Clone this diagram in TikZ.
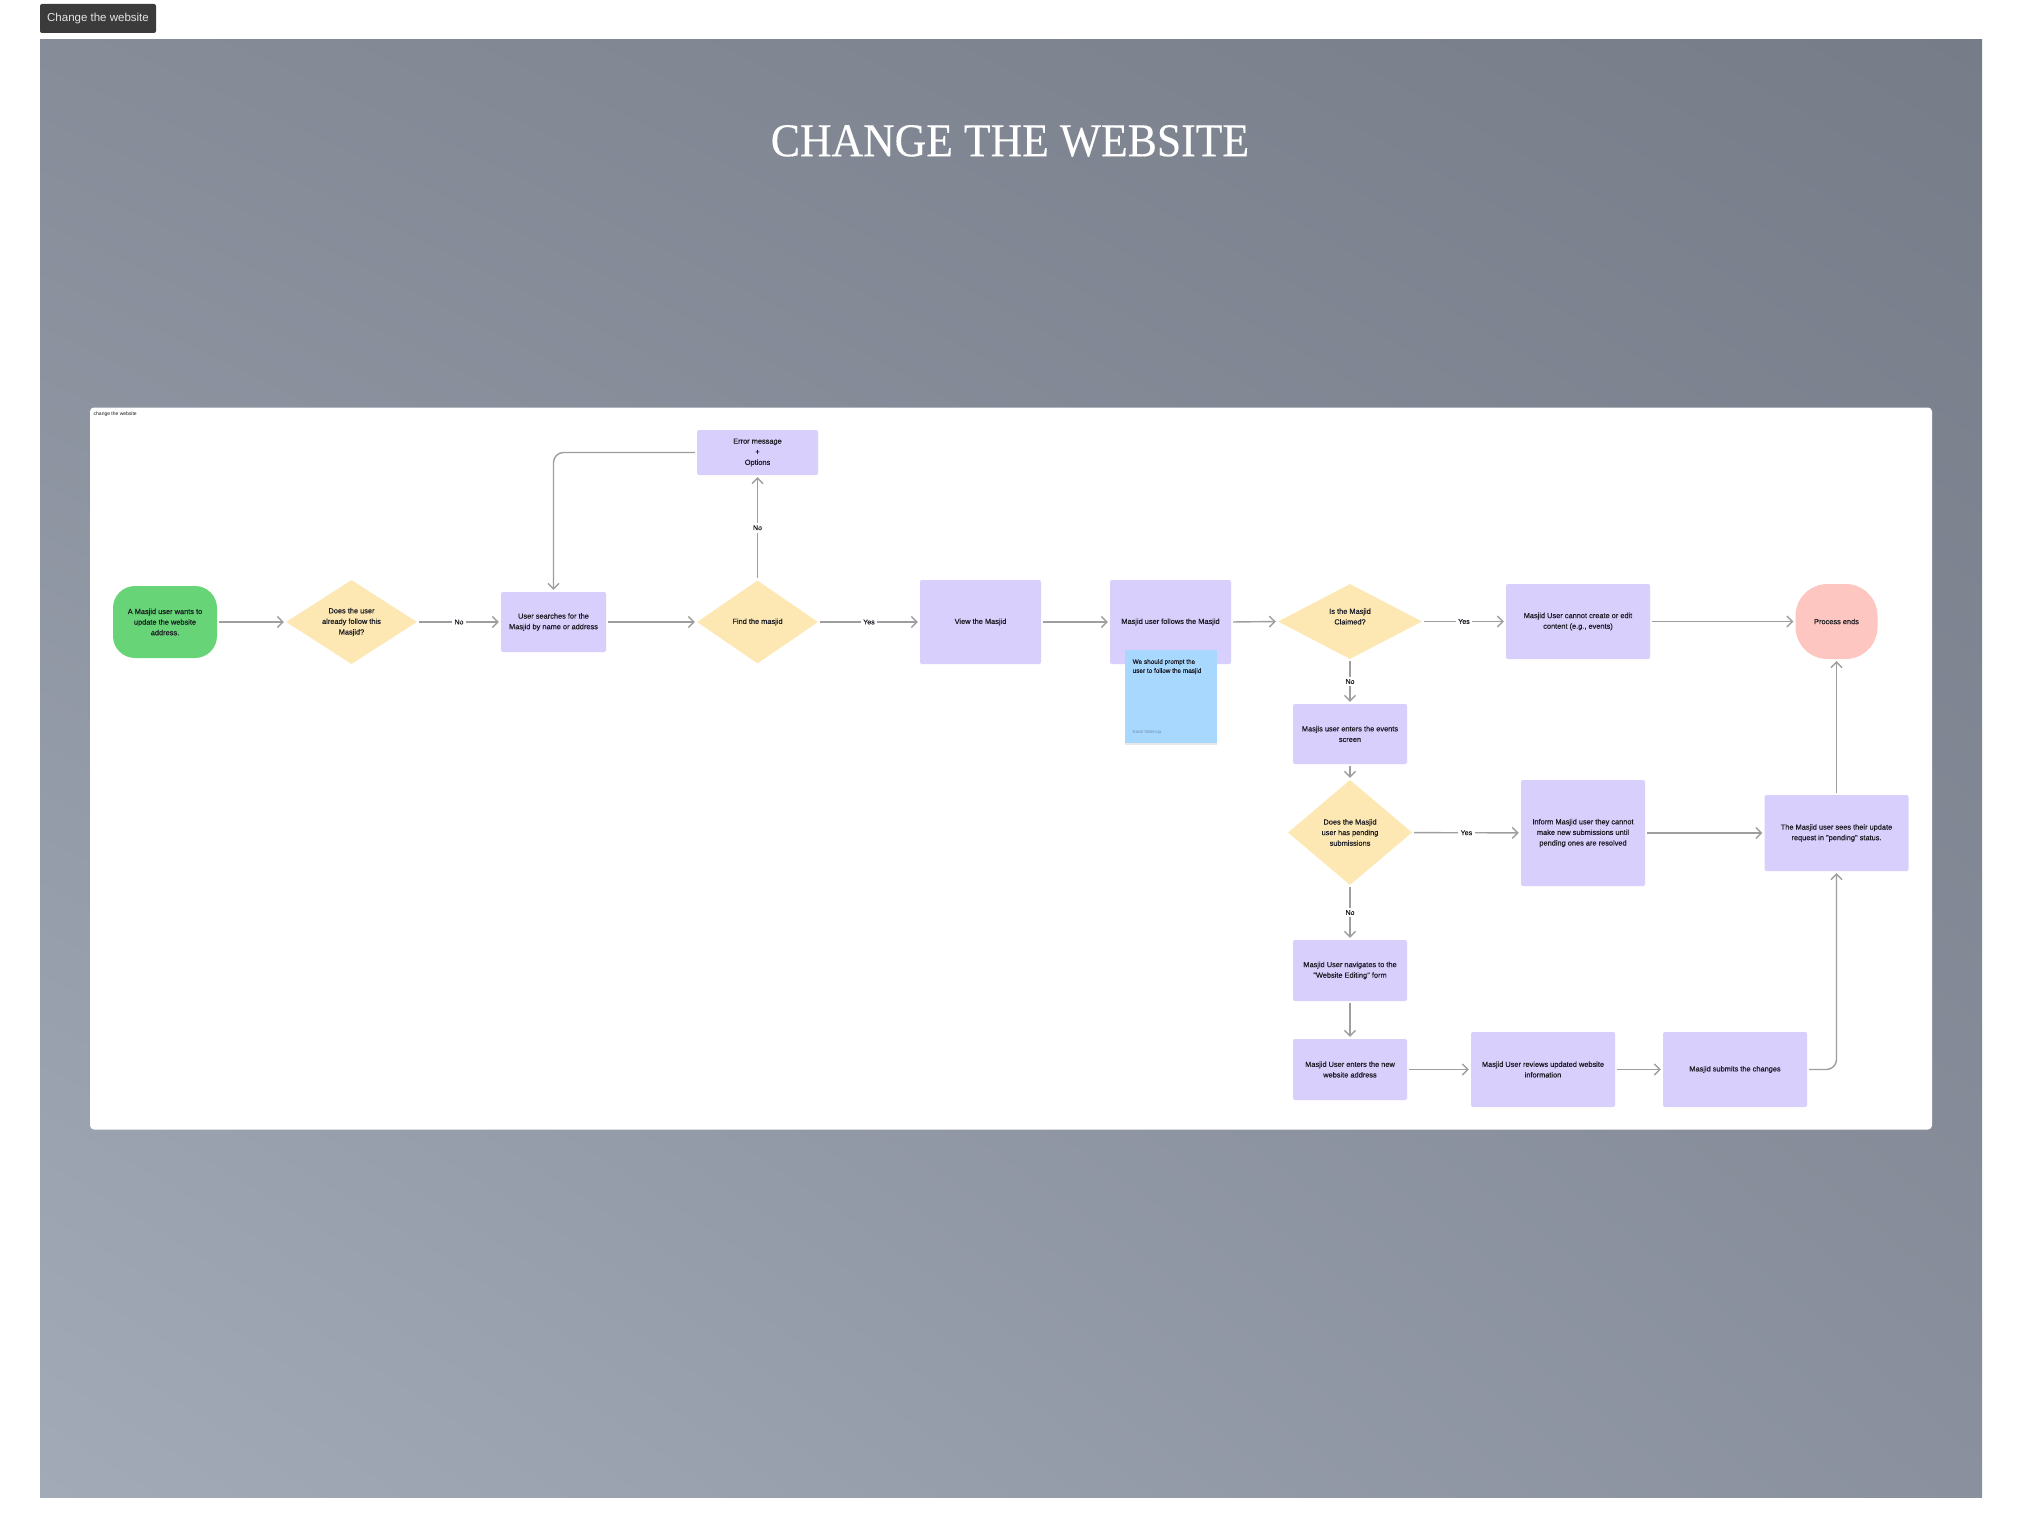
\documentclass[tikz,border=0pt]{standalone}
\usepackage{fontspec}
\usepackage{graphicx}
\setmainfont{Liberation Sans}
\newfontfamily\medfam{Liberation Sans}[FakeBold=0.4]
\newfontfamily\titlefont{Liberation Serif}[FakeBold=0.3]
\usetikzlibrary{arrows.meta,shapes.geometric,shadows,shadings}
\definecolor{lav}{HTML}{D9CFFC}
\definecolor{yel}{HTML}{FDE8B4}
\definecolor{grn}{HTML}{67D477}
\definecolor{pnk}{HTML}{FEC6C0}
\definecolor{sky}{HTML}{A8D8FE}
\definecolor{arrc}{HTML}{9E9E9E}
\definecolor{txt}{HTML}{1C1C24}
\definecolor{tabc}{HTML}{3B3B3B}
\definecolor{auth}{HTML}{6A8EAF}
\definecolor{gUL}{HTML}{868C98}
\definecolor{gUR}{HTML}{767C88}
\definecolor{gLL}{HTML}{A2AAB8}
\definecolor{gLR}{HTML}{8A909D}
\begin{document}
\begin{tikzpicture}[x=1pt,y=-1pt,
  boxfont/.style={font=\medfam\fontsize{7.4}{10.6}\selectfont, text=txt},
  box/.style={rectangle, fill=lav, rounded corners=2pt, align=center, inner sep=2pt, boxfont},
  dec/.style={diamond, fill=yel, inner sep=0pt},
  dtext/.style={boxfont, align=center},
  arr/.style={draw=arrc, line width=1.4pt, -{Straight Barb[length=5.5pt,width=11pt,line width=1.4pt]}, shorten <=2pt, shorten >=2pt},
  lbl/.style={fill=white, inner sep=2.5pt, font=\medfam\fontsize{7}{8}\selectfont, text=txt}
]
\useasboundingbox (0,0) rectangle (2022,1538);
\fill[white] (0,0) rectangle (2022,1538);
% tab
\node[fill=tabc, rounded corners=2pt, minimum width=116pt, minimum height=29pt, inner sep=0pt, text=white!90!black, font=\fontsize{11.5}{13}\selectfont] (tab) at (98,18.5) {Change the website};
% background panel
\shade[upper left=gUL, upper right=gUR, lower left=gLL, lower right=gLR] (40,40) rectangle (1982,1497);
\node[text=white, inner sep=0pt, font=\titlefont\fontsize{47}{50}\selectfont] (title) at (1010,141) {\scalebox{0.93}[1]{CHANGE THE WEBSITE}};
% board
\fill[white, rounded corners=4pt] (90,407.5) rectangle (1932,1129.5);
\node[anchor=west, inner sep=0pt, font=\fontsize{5}{6}\selectfont, text=txt] (blabel) at (93.5,414) {change the website};

% nodes
\node[rectangle, fill=grn, rounded corners=22pt, minimum width=104pt, minimum height=72pt, align=center, boxfont] (start) at (165,622) {A Masjid user wants to\\update the website\\address.};
\node[dec, minimum width=131pt, minimum height=84pt, label={[dtext]center:{Does the user\\already follow this\\Masjid?}}] (d1) at (351.5,622) {};
\node[box, minimum width=105pt, minimum height=60pt] (search) at (553.5,622) {User searches for the\\Masjid by name or address};
\node[dec, minimum width=121pt, minimum height=83pt, label={[dtext]center:{Find the masjid}}] (find) at (757.5,622) {};
\node[box, minimum width=121pt, minimum height=45pt] (err) at (757.5,452.5) {Error message\\+\\Options};
\node[box, minimum width=121pt, minimum height=84pt] (view) at (980.5,622) {View the Masjid};
\node[box, minimum width=121pt, minimum height=84pt] (follow) at (1170.5,622) {Masjid user follows the Masjid};
\node[rectangle, fill=sky, minimum width=92pt, minimum height=93pt, inner sep=0pt, drop shadow={opacity=0.18, shadow xshift=0pt, shadow yshift=-1.5pt}] (note) at (1171,696.5) {};
\node[anchor=north west, align=left, inner sep=0pt, font=\medfam\fontsize{6.4}{9}\selectfont, text=txt] (notetext) at (1132.5,659) {We should prompt the\\user to follow the masjid};
\node[anchor=west, inner sep=0pt, font=\fontsize{4.5}{5}\selectfont, text=auth] (noteauthor) at (1132.5,732) {Karol Valencja};
\node[dec, minimum width=144pt, minimum height=75pt, label={[dtext, yshift=5pt]center:{Is the Masjid\\Claimed?}}] (claimed) at (1350,621.5) {};
\node[box, minimum width=144pt, minimum height=75pt] (cannot) at (1578,621.5) {Masjid User cannot create or edit\\content (e.g., events)};
\node[rectangle, fill=pnk, rounded corners=32pt, minimum width=82pt, minimum height=75pt, boxfont] (endp) at (1836.5,621.5) {Process ends};
\node[box, minimum width=114pt, minimum height=60pt] (events) at (1350,734) {Masjis user enters the events\\screen};
\node[dec, minimum width=124pt, minimum height=105pt, label={[dtext]center:{Does the Masjid\\user has pending\\submissions}}] (pend) at (1350,832.5) {};
\node[box, minimum width=124pt, minimum height=106pt] (inform) at (1583,833) {Inform Masjid user they cannot\\make new submissions until\\pending ones are resolved};
\node[box, minimum width=144pt, minimum height=76pt] (status) at (1836.5,833) {The Masjid user sees their update\\request in "pending" status.};
\node[box, minimum width=114pt, minimum height=61pt] (nav) at (1350,970.5) {Masjid User navigates to the\\"Website Editing" form};
\node[box, minimum width=114pt, minimum height=61pt] (enter) at (1350,1069.5) {Masjid User enters the new\\website address};
\node[box, minimum width=144pt, minimum height=75pt] (review) at (1543,1069.5) {Masjid User reviews updated website\\information};
\node[box, minimum width=144pt, minimum height=75pt] (submit) at (1735,1069.5) {Masjid submits the changes};

% connectors
\draw[arr] (start) -- (d1);
\draw[arr] (d1) -- node[lbl, midway] {No} (search);
\draw[arr] (search) -- (find);
\draw[arr] (find) -- node[lbl, midway] {No} (err);
\draw[arr, rounded corners=10pt] (err.west) -| (search.north);
\draw[arr] (find) -- node[lbl, midway] {Yes} (view);
\draw[arr] (view) -- (follow);
\draw[arr] (follow.east) -- (claimed.west);
\draw[arr] (claimed) -- node[lbl, midway] {Yes} (cannot);
\draw[arr] (cannot) -- (endp);
\draw[arr] (claimed) -- node[lbl, midway] {No} (events);
\draw[arr] (events) -- (pend);
\draw[arr] (pend) -- node[lbl, midway] {Yes} (inform);
\draw[arr] (inform) -- (status);
\draw[arr] (status) -- (endp);
\draw[arr] (pend) -- node[lbl, midway] {No} (nav);
\draw[arr] (nav) -- (enter);
\draw[arr] (enter) -- (review);
\draw[arr] (review) -- (submit);
\draw[arr, rounded corners=10pt] (submit.east) -| (status.south);
\end{tikzpicture}
\end{document}
